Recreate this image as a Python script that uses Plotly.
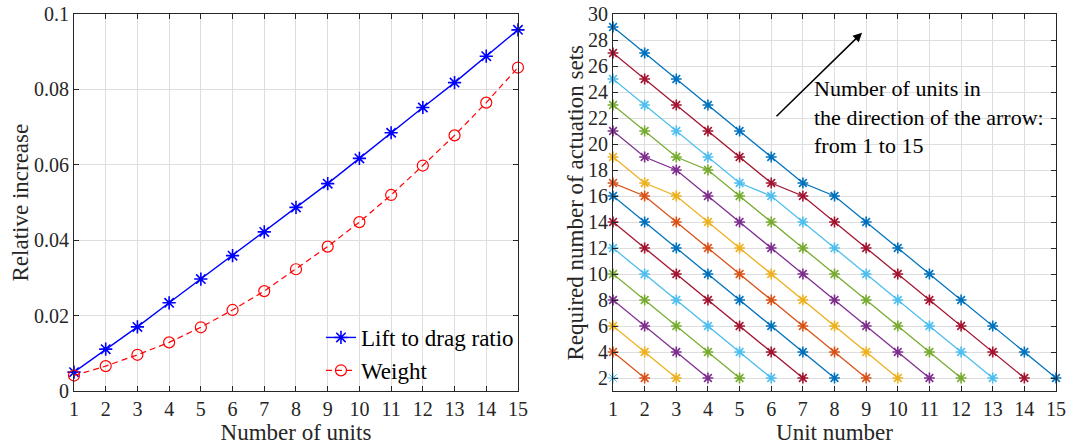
import plotly.graph_objects as go

# ---------------- data ----------------
units = list(range(1, 16))
lift_to_drag = [0.0050, 0.0111, 0.0170, 0.0234, 0.0297, 0.0359, 0.0422, 0.0487,
                0.0550, 0.0617, 0.0685, 0.0752, 0.0818, 0.0888, 0.0958]
weight = [0.0041, 0.0066, 0.0096, 0.0129, 0.0169, 0.0215, 0.0265, 0.0323,
          0.0383, 0.0448, 0.0520, 0.0598, 0.0678, 0.0765, 0.0858]

# Required number of actuation sets for configurations with n units (n = 1..15)
actuation_sets = {
    1: [2],
    2: [4, 2],
    3: [6, 4, 2],
    4: [8, 6, 4, 2],
    5: [10, 8, 6, 4, 2],
    6: [12, 10, 8, 6, 4, 2],
    7: [14, 12, 10, 8, 6, 4, 2],
    8: [16, 14, 12, 10, 8, 6, 4, 2],
    9: [17, 16, 14, 12, 10, 8, 6, 4, 2],
    10: [19, 17, 16, 14, 12, 10, 8, 6, 4, 2],
    11: [21, 19, 18, 16, 14, 12, 10, 8, 6, 4, 2],
    12: [23, 21, 19, 18, 16, 14, 12, 10, 8, 6, 4, 2],
    13: [25, 23, 21, 19, 17, 16, 14, 12, 10, 8, 6, 4, 2],
    14: [27, 25, 23, 21, 19, 17, 16, 14, 12, 10, 8, 6, 4, 2],
    15: [29, 27, 25, 23, 21, 19, 17, 16, 14, 12, 10, 8, 6, 4, 2],
}
series_colors = {
    1: "#4DBEEE", 2: "#D95319", 3: "#EDB120", 4: "#7E2F8E", 5: "#77AC30",
    6: "#4DBEEE", 7: "#A2142F", 8: "#0072BD", 9: "#D95319", 10: "#EDB120",
    11: "#7E2F8E", 12: "#77AC30", 13: "#4DBEEE", 14: "#A2142F", 15: "#0072BD",
}

left_yticks = [0, 0.02, 0.04, 0.06, 0.08, 0.1]
left_yticklabels = ["0", "0.02", "0.04", "0.06", "0.08", "0.1"]
right_yticks = list(range(2, 31, 2))

FONT = "Liberation Serif"
AX = "#262626"
GRID = "#dedede"

fig = go.Figure()

fig.add_trace(go.Scatter(
    x=units, y=lift_to_drag, name="Lift to drag ratio", mode="lines+markers",
    line=dict(color="#0000FF", width=1.4),
    marker=dict(symbol="asterisk-open", size=11, color="#0000FF",
                line=dict(color="#0000FF", width=1.6)),
    cliponaxis=False, xaxis="x", yaxis="y"))
fig.add_trace(go.Scatter(
    x=units, y=weight, name="Weight", mode="lines+markers",
    line=dict(color="#FF0000", width=1.2, dash="6px,4px"),
    marker=dict(symbol="circle-open", size=11, color="#FF0000",
                line=dict(color="#FF0000", width=1.2)),
    cliponaxis=False, xaxis="x", yaxis="y"))

for n in range(1, 16):
    ys = actuation_sets[n]
    xs = units[:len(ys)]
    c = series_colors[n]
    fig.add_trace(go.Scatter(
        x=xs, y=ys, mode="lines+markers", showlegend=False,
        line=dict(color=c, width=1.3),
        marker=dict(symbol="asterisk-open", size=9, color=c,
                    line=dict(color=c, width=1.6 if n > 1 else 1.0)),
        cliponaxis=False, xaxis="x2", yaxis="y2"))

axis_common = dict(
    showline=True, linecolor=AX, linewidth=1.2, mirror="ticks",
    ticks="inside", ticklen=5, tickcolor=AX, tickwidth=1,
    showgrid=True, gridcolor=GRID, gridwidth=1, zeroline=False,
    automargin=False, ticklabeloverflow="allow",
    tickfont=dict(family=FONT, size=20, color=AX),
)
TITLE_FONT = dict(family=FONT, size=23, color=AX)

fig.update_layout(
    width=1091, height=448,
    margin=dict(l=74, r=35, t=14, b=57),
    paper_bgcolor="white", plot_bgcolor="white",
    font=dict(family=FONT, size=20, color=AX),
    xaxis=dict(domain=[0, 0.4521], range=[1, 15], tickvals=units,
               title=dict(text="Number of units", font=TITLE_FONT, standoff=2),
               **axis_common),
    yaxis=dict(domain=[0, 1], range=[0, 0.1], tickvals=left_yticks, ticktext=left_yticklabels,
               **axis_common),
    xaxis2=dict(domain=[0.5489, 1], range=[1, 15], tickvals=units, anchor="y2",
                title=dict(text="Unit number", font=TITLE_FONT, standoff=2),
                **axis_common),
    yaxis2=dict(domain=[0, 1], range=[1, 30], tickvals=right_yticks, anchor="x2",
                **axis_common),
    legend=dict(x=0.2515, y=0.199, xanchor="left", yanchor="top",
                bgcolor="rgba(255,255,255,0)", borderwidth=0,
                font=dict(family=FONT, size=23, color="black"),
                itemwidth=30, tracegroupgap=0),
    showlegend=True,
)

# y-axis titles
fig.add_annotation(text="Relative increase", x=0, y=0.5, xref="paper", yref="paper",
                   xshift=-54, textangle=-90, showarrow=False,
                   xanchor="center", yanchor="middle", font=TITLE_FONT)
fig.add_annotation(text="Required number of actuation sets", x=0.5489, y=0.5,
                   xref="paper", yref="paper", xshift=-38, textangle=-90, showarrow=False,
                   xanchor="center", yanchor="middle", font=TITLE_FONT)

fig.add_annotation(
    x=8.87, y=28.56, ax=6.12, ay=22.02, xref="x2", yref="y2", axref="x2", ayref="y2",
    showarrow=True, arrowhead=2, arrowsize=1.2, arrowwidth=1.5, arrowcolor="black", text="")
fig.add_annotation(
    x=7.3, y=22.1, xref="x2", yref="y2", xanchor="left", yanchor="middle", align="left",
    showarrow=False,
    text="Number of units in<br>the direction of the arrow:<br>from 1 to 15",
    font=dict(family=FONT, size=22, color="black"))

# remove the browser's default 8px body margin so the figure fills the window
fig.write_html("out.html", config={"displayModeBar": False},
               post_script="document.body.style.margin='0';document.body.style.overflow='hidden';")
